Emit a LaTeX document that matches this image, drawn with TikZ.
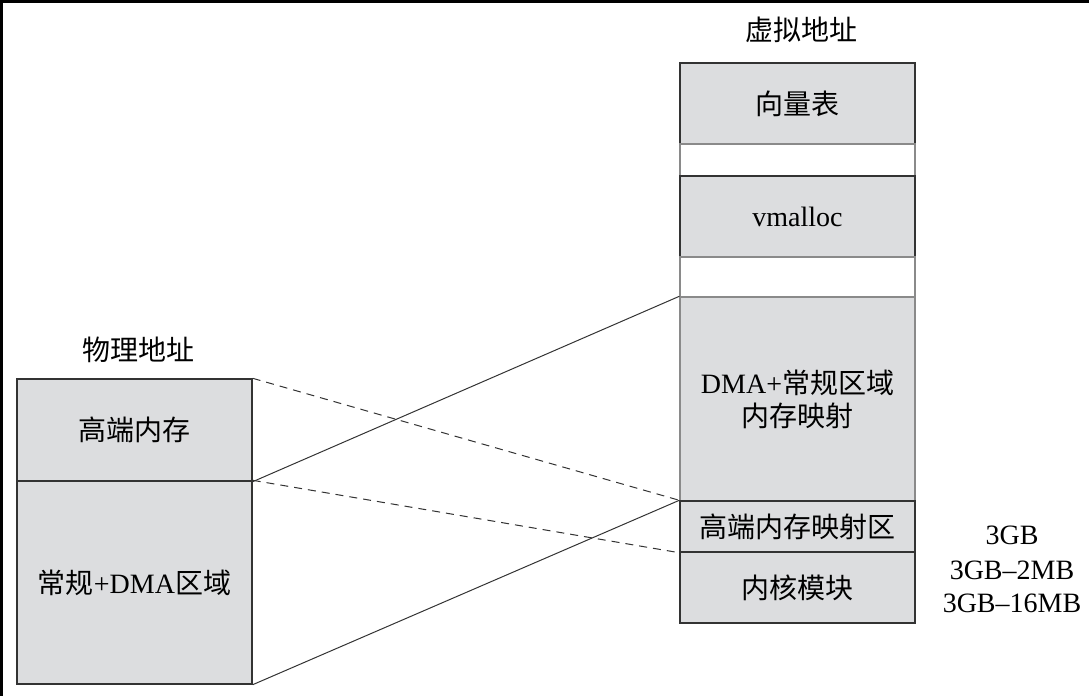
\documentclass[tikz,border=0pt]{standalone}
\usepackage{fontspec}
\setmainfont{Liberation Serif}
\newfontfamily\cjk{Noto Sans CJK SC}
\newcommand{\zh}[1]{{\cjk #1}}
\definecolor{boxfill}{HTML}{DCDDDF}
\definecolor{boxline}{HTML}{333333}
\definecolor{gapline}{HTML}{8A8A8A}
\begin{document}
\begin{tikzpicture}[x=1pt,y=-1pt,
  every node/.style={inner sep=0pt},
  memblock/.style={draw=boxline,line width=1.4pt,fill=boxfill,minimum width=235pt,align=center,font=\fontsize{28}{33}\selectfont},
  gapblock/.style={draw=gapline,line width=1.2pt,fill=white,minimum width=235pt},
  lbl/.style={font=\fontsize{28}{33}\selectfont},
  map/.style={draw=boxline,line width=1pt},
  mapd/.style={draw=boxline,line width=1pt,dash pattern=on 8pt off 6pt}]
\useasboundingbox (0,0) rectangle (1089,696);
\draw[line width=3pt,black] (0,1.5) -- (1089,1.5);
\draw[line width=3pt,black] (1.5,0) -- (1.5,696);
% physical
\node[lbl] (phys) at (138,350) {\zh{物理地址}};
\node[memblock,minimum height=102pt] (hi) at (134.5,430) {\zh{高端内存}};
\node[memblock,minimum height=203pt] (lo) at (134.5,582.5) {\zh{常规}+DMA\zh{区域}};
% virtual
\node[lbl] (virt) at (801,30) {\zh{虚拟地址}};
\node[memblock,minimum height=81pt] (vec) at (797.5,103.5) {\zh{向量表}};
\node[gapblock,minimum height=32pt] (gap1) at (797.5,160) {};
\node[memblock,minimum height=81pt] (vm) at (797.5,216.5) {vmalloc};
\node[gapblock,minimum height=40pt] (gap2) at (797.5,277) {};
\node[memblock,draw=gapline,minimum height=204pt] (dma) at (797.5,399) {DMA+\zh{常规区域}\\\zh{内存映射}};
\node[memblock,minimum height=51pt] (hmap) at (797.5,526.5) {\zh{高端内存映射区}};
\node[memblock,minimum height=71pt] (kmod) at (797.5,587.5) {\zh{内核模块}};
\draw[boxline,line width=1.4pt] (dma.south west) -- (dma.south east);
% address labels
\node[font=\fontsize{28}{33}\selectfont] (a1) at (1012,535) {3GB};
\node[font=\fontsize{28}{33}\selectfont] (a2) at (1012,570) {3GB--2MB};
\node[font=\fontsize{28}{33}\selectfont] (a3) at (1012,603) {3GB--16MB};
% mappings
\draw[mapd] (hi.north east) -- (hmap.north west);
\draw[map] (hi.south east) -- (dma.north west);
\draw[mapd] (lo.north east) -- (hmap.south west);
\draw[map] (lo.south east) -- (hmap.north west);
\end{tikzpicture}
\end{document}
